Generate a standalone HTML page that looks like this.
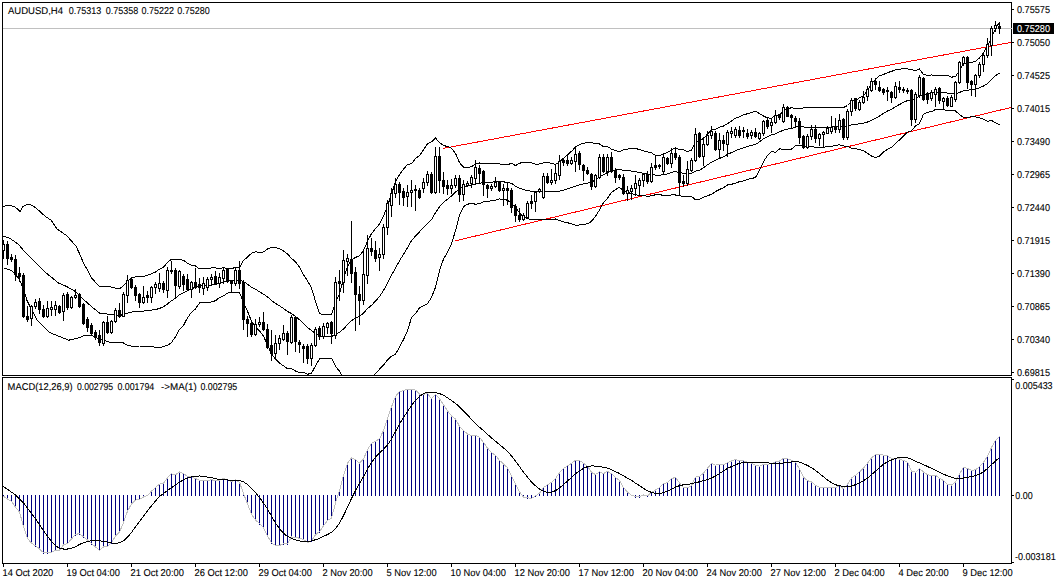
<!DOCTYPE html><html><head><meta charset="utf-8"><style>html,body{margin:0;padding:0;background:#fff;width:1057px;height:584px;overflow:hidden}svg{display:block}text{font-family:"Liberation Sans",sans-serif;font-size:9.9px;text-rendering:geometricPrecision;fill:#000;stroke:#000;stroke-width:0.1px}</style></head><body>
<svg width="1057" height="584" viewBox="0 0 1057 584">
<rect x="0" y="0" width="1057" height="584" fill="#fff"/>
<defs><clipPath id="cm"><rect x="3" y="3" width="1008" height="372"/></clipPath><clipPath id="cd"><rect x="3" y="378" width="1008" height="185"/></clipPath></defs>
<g clip-path="url(#cm)">
<g shape-rendering="crispEdges">
<line x1="3" y1="28.5" x2="1011" y2="28.5" stroke="#c0c0c0"/>
</g>
<g shape-rendering="crispEdges">
<line x1="442.7" y1="148.5" x2="1011" y2="42.4" stroke="#ff0000"/>
<line x1="454.7" y1="241" x2="1011" y2="107.5" stroke="#ff0000"/>
<polyline points="3.3,206.3 8.0,205.4 13.7,206.3 16.5,208.2 20.3,211.6 23.1,206.3 27.8,204.0 32.5,205.4 38.2,210.0 45.7,216.7 51.3,220.4 57.0,229.0 66.5,235.5 75.8,245.8 79.5,253.5 83.5,263.1 87.5,270.0 91.5,277.9 95.5,282.3 99.5,286.8 103.5,286.8 107.5,286.3 111.5,287.2 115.5,288.1 119.5,288.6 123.5,285.9 127.5,280.9 131.5,278.0 135.5,276.8 139.5,276.1 143.5,276.3 147.5,275.3 151.5,273.8 155.5,272.0 159.5,269.1 163.5,267.2 167.5,262.4 171.5,259.2 175.5,259.6 179.5,259.9 183.5,260.1 187.5,263.4 191.5,265.1 195.5,266.0 199.5,269.0 203.5,268.8 207.5,268.7 211.5,267.8 215.5,267.9 219.5,268.5 223.5,267.6 227.5,268.7 231.5,268.7 235.5,267.3 239.5,267.3 243.5,260.5 247.5,257.1 251.5,253.3 255.5,251.7 259.5,252.7 263.5,251.9 267.5,249.0 271.5,247.3 275.5,247.5 279.5,248.7 283.5,251.0 287.5,254.1 291.5,258.3 295.5,261.8 299.5,267.1 303.5,274.9 307.5,280.7 311.5,288.0 315.5,301.2 319.5,313.6 323.5,314.8 327.5,314.8 331.5,314.7 335.5,302.5 339.5,293.7 343.5,279.0 347.5,266.5 351.5,260.0 355.5,257.4 359.5,255.7 363.5,250.6 367.5,241.3 371.5,233.6 375.5,228.6 379.5,224.1 383.5,216.1 387.5,205.8 391.5,194.3 395.5,181.8 399.5,174.5 403.5,169.2 407.5,164.6 411.5,163.7 415.5,158.5 419.5,155.6 423.5,149.9 427.5,143.6 431.5,141.8 435.5,138.1 439.5,142.6 443.5,145.6 447.5,146.4 451.5,148.4 455.5,153.3 459.5,162.7 463.5,167.1 467.5,167.5 471.5,166.7 475.5,164.2 479.5,163.0 483.5,163.4 487.5,163.5 491.5,163.5 495.5,163.5 499.5,164.0 503.5,164.1 507.5,164.9 511.5,163.1 515.5,165.6 519.5,163.3 523.5,162.2 527.5,162.4 531.5,162.9 535.5,164.2 539.5,164.0 543.5,162.9 547.5,162.8 551.5,163.2 555.5,164.5 559.5,161.8 563.5,158.2 567.5,154.8 571.5,151.3 575.5,147.1 579.5,144.6 583.5,143.3 587.5,142.3 591.5,142.7 595.5,143.6 599.5,143.9 603.5,146.7 607.5,146.6 611.5,149.2 615.5,150.5 619.5,151.6 623.5,149.8 627.5,149.1 631.5,148.5 635.5,148.4 639.5,149.6 643.5,150.8 647.5,151.9 651.5,152.9 655.5,155.4 659.5,155.7 663.5,153.6 667.5,152.5 671.5,149.8 675.5,147.9 679.5,149.7 683.5,149.9 687.5,151.6 691.5,150.3 695.5,142.6 699.5,140.9 703.5,138.3 707.5,134.2 711.5,129.9 715.5,129.2 719.5,127.3 723.5,126.0 727.5,123.8 731.5,120.9 735.5,118.2 739.5,116.7 743.5,114.7 747.5,113.8 751.5,112.3 755.5,111.4 759.5,113.5 763.5,116.1 767.5,117.9 771.5,118.3 775.5,115.2 779.5,114.9 783.5,110.8 787.5,109.0 791.5,107.7 795.5,108.4 799.5,108.6 803.5,108.0 807.5,107.9 811.5,107.9 815.5,107.8 819.5,107.8 823.5,107.8 827.5,107.8 831.5,107.7 835.5,107.7 839.5,107.1 843.5,107.5 847.5,105.5 851.5,101.5 855.5,100.4 859.5,97.9 863.5,95.8 867.5,90.7 871.5,84.2 875.5,79.1 879.5,75.8 883.5,74.5 887.5,72.6 891.5,71.4 895.5,69.9 899.5,69.1 903.5,68.9 907.5,68.9 911.5,69.6 915.5,70.8 919.5,69.0 923.5,74.5 927.5,75.2 931.5,75.0 935.5,75.3 939.5,75.4 943.5,75.4 947.5,75.4 951.5,77.1 955.5,76.7 959.5,70.4 963.5,63.8 967.5,63.1 971.5,62.5 975.5,61.2 979.5,57.9 983.5,52.9 987.5,46.0 991.5,37.8 995.5,28.7 999.5,21.9" fill="none" stroke="#000" stroke-width="1" />
<polyline points="3.5,236.0 10.1,238.4 18.5,244.4 24.5,251.6 30.5,257.6 36.5,263.6 44.9,272.0 50.9,276.8 58.1,282.8 66.5,286.4 76.0,291.8 79.5,295.6 83.5,299.5 87.5,302.9 91.5,306.6 95.5,309.8 99.5,313.1 103.5,313.4 107.5,314.1 111.5,314.8 115.5,315.2 119.5,315.6 123.5,314.4 127.5,313.1 131.5,312.1 135.5,311.6 139.5,311.1 143.5,311.1 147.5,310.6 151.5,310.1 155.5,309.6 159.5,308.4 163.5,306.8 167.5,303.9 171.5,300.8 175.5,298.2 179.5,294.6 183.5,292.8 187.5,290.6 191.5,288.6 195.5,287.4 199.5,286.0 203.5,285.4 207.5,285.4 211.5,284.9 215.5,284.3 219.5,283.1 223.5,281.7 227.5,280.9 231.5,280.7 235.5,280.0 239.5,280.0 243.5,281.5 247.5,284.1 251.5,287.3 255.5,289.2 259.5,291.8 263.5,294.1 267.5,296.9 271.5,300.5 275.5,303.4 279.5,305.9 283.5,308.4 287.5,311.5 291.5,313.5 295.5,316.4 299.5,319.8 303.5,323.6 307.5,327.5 311.5,330.6 315.5,333.6 319.5,336.2 323.5,336.6 327.5,336.6 331.5,336.5 335.5,334.4 339.5,332.4 343.5,329.0 347.5,324.6 351.5,320.6 355.5,318.1 359.5,316.2 363.5,313.2 367.5,308.6 371.5,305.3 375.5,301.1 379.5,296.6 383.5,290.6 387.5,282.9 391.5,275.2 395.5,268.0 399.5,260.8 403.5,254.3 407.5,247.8 411.5,240.7 415.5,236.1 419.5,231.8 423.5,227.8 427.5,223.7 431.5,219.6 435.5,212.7 439.5,206.7 443.5,202.3 447.5,199.3 451.5,196.0 455.5,192.0 459.5,189.0 463.5,186.8 467.5,185.8 471.5,185.1 475.5,184.2 479.5,183.2 483.5,182.6 487.5,182.4 491.5,182.2 495.5,181.8 499.5,181.4 503.5,181.8 507.5,182.6 511.5,183.3 515.5,186.2 519.5,188.2 523.5,189.7 527.5,190.4 531.5,191.3 535.5,192.0 539.5,191.8 543.5,191.3 547.5,191.3 551.5,191.4 555.5,191.8 559.5,191.2 563.5,190.1 567.5,188.8 571.5,187.5 575.5,186.1 579.5,184.8 583.5,183.9 587.5,183.1 591.5,182.0 595.5,180.0 599.5,176.9 603.5,174.7 607.5,172.4 611.5,170.8 615.5,170.1 619.5,169.4 623.5,170.3 627.5,170.7 631.5,171.1 635.5,171.6 639.5,172.6 643.5,173.2 647.5,174.1 651.5,174.4 655.5,175.1 659.5,175.2 663.5,174.5 667.5,174.0 671.5,172.3 675.5,171.4 679.5,172.7 683.5,173.3 687.5,173.9 691.5,173.3 695.5,171.2 699.5,170.2 703.5,167.7 707.5,164.9 711.5,162.1 715.5,160.4 719.5,158.4 723.5,156.8 727.5,154.4 731.5,152.6 735.5,150.7 739.5,149.2 743.5,147.8 747.5,146.5 751.5,145.4 755.5,144.4 759.5,141.9 763.5,138.8 767.5,136.7 771.5,134.8 775.5,133.8 779.5,131.9 783.5,130.1 787.5,129.1 791.5,128.4 795.5,127.0 799.5,126.8 803.5,127.0 807.5,127.2 811.5,127.2 815.5,127.6 819.5,127.5 823.5,127.6 827.5,127.2 831.5,127.0 835.5,126.6 839.5,126.0 843.5,126.8 847.5,126.0 851.5,124.9 855.5,124.5 859.5,123.8 863.5,123.3 867.5,122.0 871.5,120.2 875.5,118.3 879.5,116.0 883.5,113.2 887.5,111.0 891.5,109.3 895.5,106.8 899.5,104.5 903.5,102.4 907.5,100.5 911.5,100.2 915.5,98.4 919.5,96.2 923.5,94.3 927.5,93.8 931.5,93.3 935.5,92.4 939.5,92.3 943.5,92.3 947.5,93.2 951.5,94.0 955.5,93.8 959.5,92.5 963.5,90.7 967.5,90.2 971.5,89.6 975.5,89.0 979.5,87.8 983.5,86.0 987.5,83.7 991.5,79.2 995.5,75.7 999.5,73.2" fill="none" stroke="#000" stroke-width="1" />
<polyline points="3.5,267.8 8.9,269.6 12.5,271.4 14.9,274.4 18.5,278.0 20.9,282.8 23.3,288.8 27.0,300.4 36.5,319.3 49.7,332.6 68.7,340.2 79.5,337.6 83.5,335.9 87.5,335.9 91.5,335.4 95.5,337.3 99.5,339.4 103.5,340.0 107.5,341.8 111.5,342.4 115.5,342.3 119.5,342.5 123.5,343.0 127.5,345.2 131.5,346.1 135.5,346.3 139.5,346.0 143.5,346.0 147.5,346.0 151.5,346.5 155.5,347.2 159.5,347.8 163.5,346.3 167.5,345.4 171.5,342.4 175.5,336.8 179.5,329.4 183.5,325.4 187.5,317.8 191.5,312.2 195.5,308.9 199.5,303.0 203.5,302.1 207.5,302.1 211.5,302.0 215.5,300.7 219.5,297.6 223.5,295.8 227.5,293.1 231.5,292.7 235.5,292.7 239.5,292.7 243.5,302.5 247.5,311.2 251.5,321.3 255.5,326.8 259.5,330.9 263.5,336.2 267.5,344.9 271.5,353.7 275.5,359.2 279.5,363.1 283.5,365.8 287.5,368.9 291.5,368.7 295.5,371.0 299.5,372.4 303.5,372.4 307.5,374.3 311.5,373.2 315.5,365.9 319.5,358.8 323.5,358.3 327.5,358.3 331.5,358.3 335.5,366.3 339.5,371.2 343.5,379.0 347.5,382.6 351.5,381.1 355.5,378.8 359.5,376.7 363.5,375.9 367.5,375.9 371.5,377.0 375.5,373.7 379.5,369.2 383.5,365.1 387.5,359.9 391.5,356.2 395.5,354.2 399.5,347.1 403.5,339.5 407.5,331.0 411.5,317.6 415.5,313.6 419.5,307.9 423.5,305.8 427.5,303.7 431.5,297.4 435.5,287.3 439.5,270.8 443.5,259.0 447.5,252.2 451.5,243.6 455.5,230.7 459.5,215.3 463.5,206.6 467.5,204.2 471.5,203.4 475.5,204.2 479.5,203.5 483.5,201.8 487.5,201.3 491.5,200.9 495.5,200.1 499.5,198.9 503.5,199.4 507.5,200.2 511.5,203.5 515.5,206.9 519.5,213.1 523.5,217.1 527.5,218.4 531.5,219.7 535.5,219.8 539.5,219.5 543.5,219.8 547.5,219.8 551.5,219.7 555.5,219.0 559.5,220.5 563.5,221.9 567.5,222.8 571.5,223.7 575.5,225.1 579.5,225.0 583.5,224.5 587.5,223.8 591.5,221.3 595.5,216.4 599.5,209.9 603.5,202.7 607.5,198.2 611.5,192.4 615.5,189.6 619.5,187.3 623.5,190.8 627.5,192.3 631.5,193.7 635.5,194.8 639.5,195.5 643.5,195.5 647.5,196.2 651.5,195.9 655.5,194.7 659.5,194.6 663.5,195.4 667.5,195.5 671.5,194.9 675.5,195.0 679.5,195.7 683.5,196.7 687.5,196.2 691.5,196.4 695.5,199.8 699.5,199.4 703.5,197.1 707.5,195.7 711.5,194.3 715.5,191.6 719.5,189.5 723.5,187.7 727.5,185.0 731.5,184.3 735.5,183.2 739.5,181.6 743.5,181.0 747.5,179.2 751.5,178.6 755.5,177.4 759.5,170.4 763.5,161.6 767.5,155.5 771.5,151.3 775.5,152.5 779.5,148.9 783.5,149.3 787.5,149.2 791.5,149.1 795.5,145.6 799.5,145.1 803.5,146.1 807.5,146.6 811.5,146.4 815.5,147.4 819.5,147.3 823.5,147.4 827.5,146.6 831.5,146.2 835.5,145.5 839.5,144.8 843.5,146.0 847.5,146.5 851.5,148.3 855.5,148.7 859.5,149.7 863.5,150.8 867.5,153.2 871.5,156.1 875.5,157.5 879.5,156.1 883.5,151.9 887.5,149.3 891.5,147.3 895.5,143.6 899.5,139.9 903.5,135.9 907.5,132.2 911.5,130.7 915.5,126.0 919.5,123.5 923.5,114.2 927.5,112.3 931.5,111.7 935.5,109.5 939.5,109.2 943.5,109.3 947.5,110.9 951.5,110.8 955.5,111.0 959.5,114.5 963.5,117.6 967.5,117.4 971.5,116.7 975.5,116.9 979.5,117.7 983.5,119.2 987.5,121.4 991.5,120.5 995.5,122.7 999.5,124.6" fill="none" stroke="#000" stroke-width="1" />
</g>
<g shape-rendering="crispEdges">
<path d="M3.5 240 V244 M3.5 251 V259 M7.5 241 V265 M11.5 254 V262 M15.5 255 V281 M19.5 267 V282 M23.5 273 V318 M27.5 306 V322 M31.5 305 V306 M31.5 319 V326 M35.5 299 V302 M35.5 307 V309 M39.5 298 V314 M43.5 305 V318 M47.5 301 V308 M47.5 317 V318 M51.5 301 V307 M51.5 310 V316 M55.5 301 V305 M55.5 310 V316 M59.5 305 V314 M63.5 293 V295 M63.5 312 V321 M67.5 292 V310 M71.5 296 V297 M71.5 308 V309 M75.5 289 V295 M75.5 298 V299 M79.5 293 V308 M83.5 303 V325 M87.5 317 V332 M91.5 323 V336 M95.5 330 V340 M99.5 330 V346 M103.5 321 V322 M103.5 344 V346 M107.5 316 V334 M111.5 320 V321 M111.5 333 V334 M115.5 308 V310 M115.5 322 V323 M119.5 303 V318 M123.5 292 V294 M127.5 275 V280 M127.5 296 V303 M131.5 278 V289 M135.5 285 V301 M139.5 293 V308 M143.5 286 V297 M143.5 303 V304 M147.5 291 V303 M151.5 286 V287 M151.5 298 V303 M155.5 282 V284 M155.5 288 V294 M159.5 273 V283 M159.5 289 V292 M163.5 281 V293 M167.5 267 V270 M167.5 291 V298 M171.5 261 V274 M175.5 268 V298 M179.5 270 V271 M179.5 287 V289 M183.5 274 V291 M187.5 274 V291 M191.5 281 V282 M191.5 290 V298 M195.5 268 V289 M199.5 278 V293 M203.5 277 V283 M203.5 289 V295 M207.5 277 V279 M207.5 288 V291 M211.5 274 V277 M211.5 280 V286 M215.5 271 V285 M219.5 273 V277 M219.5 284 V288 M223.5 268 V270 M223.5 279 V284 M227.5 268 V283 M231.5 280 V293 M235.5 268 V270 M235.5 284 V286 M239.5 261 V289 M243.5 280 V330 M247.5 316 V337 M251.5 322 V337 M255.5 319 V324 M255.5 335 V336 M259.5 317 V322 M259.5 325 V327 M263.5 312 V331 M267.5 324 V349 M271.5 330 V361 M275.5 335 V343 M275.5 354 V358 M279.5 335 V338 M279.5 344 V350 M283.5 325 V333 M283.5 340 V341 M287.5 331 V355 M291.5 315 V317 M291.5 343 V344 M295.5 316 V352 M299.5 340 V353 M303.5 344 V363 M307.5 344 V364 M311.5 343 V345 M311.5 359 V366 M315.5 327 V329 M315.5 346 V347 M319.5 326 V340 M323.5 323 V326 M323.5 337 V339 M327.5 322 V323 M327.5 328 V334 M331.5 321 V344 M335.5 277 V282 M335.5 336 V339 M339.5 270 V301 M343.5 250 V260 M343.5 283 V293 M347.5 254 V258 M347.5 262 V276 M351.5 221 V283 M355.5 267 V331 M359.5 286 V325 M363.5 250 V274 M363.5 301 V305 M367.5 235 V248 M367.5 276 V284 M371.5 238 V256 M375.5 241 V262 M379.5 248 V254 M379.5 258 V271 M383.5 224 V227 M383.5 255 V259 M387.5 200 V203 M387.5 228 V235 M391.5 188 V193 M391.5 206 V217 M395.5 178 V184 M395.5 194 V198 M399.5 182 V205 M403.5 188 V206 M407.5 185 V192 M407.5 197 V207 M411.5 180 V190 M411.5 193 V207 M415.5 185 V211 M419.5 188 V199 M423.5 178 V182 M423.5 189 V193 M427.5 171 V174 M427.5 183 V186 M431.5 172 V194 M435.5 147 V156 M435.5 193 V194 M439.5 147 V193 M443.5 172 V194 M447.5 180 V195 M451.5 179 V185 M451.5 189 V194 M455.5 175 V178 M455.5 186 V188 M459.5 175 V202 M463.5 180 V184 M463.5 195 V201 M467.5 181 V183 M467.5 186 V187 M471.5 175 V177 M471.5 184 V188 M475.5 160 V167 M475.5 179 V184 M479.5 165 V183 M483.5 170 V196 M487.5 184 V198 M491.5 184 V186 M491.5 189 V191 M495.5 177 V182 M495.5 187 V188 M499.5 181 V192 M503.5 184 V188 M503.5 191 V206 M507.5 183 V205 M511.5 188 V213 M515.5 204 V222 M519.5 208 V222 M523.5 213 V215 M523.5 220 V221 M527.5 201 V203 M527.5 218 V219 M531.5 195 V209 M535.5 191 V192 M535.5 202 V212 M539.5 188 V189 M539.5 192 V193 M543.5 173 V176 M543.5 198 V199 M547.5 173 V184 M551.5 169 V180 M551.5 183 V185 M555.5 165 V173 M555.5 181 V184 M559.5 155 V161 M559.5 176 V180 M563.5 159 V166 M567.5 154 V166 M571.5 157 V160 M571.5 164 V165 M575.5 147 V154 M575.5 162 V172 M579.5 151 V170 M583.5 164 V181 M587.5 167 V175 M591.5 173 V190 M595.5 174 V175 M595.5 187 V188 M599.5 154 V157 M599.5 178 V179 M603.5 154 V173 M607.5 154 V157 M607.5 172 V176 M611.5 152 V173 M615.5 168 V183 M619.5 174 V180 M623.5 174 V195 M627.5 186 V190 M627.5 194 V201 M631.5 185 V188 M631.5 192 V200 M635.5 175 V183 M635.5 189 V196 M639.5 178 V180 M639.5 186 V195 M643.5 173 V174 M643.5 181 V187 M647.5 171 V184 M651.5 163 V167 M651.5 182 V183 M655.5 155 V170 M659.5 164 V169 M663.5 154 V157 M663.5 172 V175 M667.5 157 V165 M671.5 148 V153 M671.5 164 V168 M675.5 148 V160 M679.5 155 V195 M683.5 175 V187 M687.5 161 V169 M687.5 184 V186 M691.5 158 V160 M691.5 171 V172 M695.5 128 V134 M695.5 161 V162 M699.5 132 V158 M703.5 137 V144 M703.5 157 V166 M707.5 131 V135 M707.5 145 V146 M711.5 126 V131 M711.5 136 V139 M715.5 131 V151 M719.5 133 V140 M719.5 150 V158 M723.5 135 V151 M727.5 130 V132 M727.5 145 V157 M731.5 127 V131 M731.5 134 V138 M735.5 127 V129 M735.5 136 V138 M739.5 126 V138 M743.5 127 V138 M747.5 129 V139 M751.5 130 V132 M751.5 136 V139 M755.5 128 V138 M759.5 132 V133 M759.5 139 V140 M763.5 120 V121 M763.5 134 V136 M767.5 118 V129 M771.5 119 V122 M771.5 126 V133 M775.5 110 V115 M775.5 123 V124 M779.5 114 V120 M783.5 104 V107 M783.5 122 V123 M787.5 106 V117 M791.5 114 V129 M795.5 116 V128 M799.5 118 V144 M803.5 135 V149 M807.5 134 V136 M807.5 148 V149 M811.5 125 V129 M811.5 137 V140 M815.5 125 V143 M819.5 133 V134 M819.5 139 V146 M823.5 131 V132 M823.5 135 V147 M827.5 126 V128 M831.5 116 V127 M831.5 132 V134 M835.5 118 V133 M839.5 114 V120 M839.5 130 V133 M843.5 118 V140 M847.5 109 V111 M847.5 138 V140 M851.5 98 V100 M851.5 112 V116 M855.5 98 V111 M859.5 100 V102 M859.5 110 V111 M863.5 91 V97 M863.5 103 V104 M867.5 86 V89 M867.5 97 V101 M871.5 78 V81 M871.5 91 V92 M875.5 80 V90 M879.5 81 V92 M883.5 88 V95 M887.5 87 V101 M891.5 91 V103 M895.5 82 V86 M895.5 98 V99 M899.5 81 V93 M903.5 87 V93 M907.5 88 V94 M911.5 89 V126 M915.5 92 V94 M915.5 120 V123 M919.5 75 V77 M919.5 96 V98 M923.5 77 V101 M927.5 92 V104 M931.5 90 V92 M931.5 99 V101 M935.5 87 V89 M935.5 95 V107 M939.5 87 V104 M943.5 97 V98 M943.5 102 V109 M947.5 96 V107 M951.5 95 V97 M955.5 81 V82 M955.5 100 V102 M959.5 61 V62 M959.5 83 V84 M963.5 56 V57 M963.5 64 V66 M967.5 56 V89 M971.5 80 V96 M975.5 74 V75 M975.5 85 V97 M979.5 62 V64 M979.5 76 V78 M983.5 53 V55 M983.5 65 V72 M987.5 38 V44 M987.5 56 V58 M991.5 26 V28 M991.5 46 V56 M995.5 21 V25 M995.5 29 V32 M999.5 23 V34" stroke="#000" fill="none"/>
<path d="M6 244h3v15h-3z M10 257h3v3h-3z M14 259h3v16h-3z M18 273h3v4h-3z M22 275h3v42h-3z M26 316h3v4h-3z M38 301h3v9h-3z M42 309h3v8h-3z M58 306h3v7h-3z M66 294h3v14h-3z M78 294h3v13h-3z M82 304h3v20h-3z M86 319h3v9h-3z M90 325h3v9h-3z M94 332h3v6h-3z M98 335h3v8h-3z M106 322h3v11h-3z M118 310h3v7h-3z M130 279h3v9h-3z M134 287h3v9h-3z M138 294h3v9h-3z M146 295h3v3h-3z M162 283h3v7h-3z M170 270h3v2h-3z M174 270h3v16h-3z M182 276h3v9h-3z M186 279h3v11h-3z M194 282h3v5h-3z M198 284h3v4h-3z M214 276h3v8h-3z M226 268h3v14h-3z M230 280h3v4h-3z M238 270h3v14h-3z M242 282h3v38h-3z M246 319h3v5h-3z M250 323h3v12h-3z M262 322h3v8h-3z M266 329h3v19h-3z M270 345h3v9h-3z M286 333h3v9h-3z M294 317h3v25h-3z M298 342h3v3h-3z M302 346h3v3h-3z M306 346h3v13h-3z M318 328h3v9h-3z M330 322h3v12h-3z M338 281h3v3h-3z M350 259h3v15h-3z M354 272h3v23h-3z M358 294h3v7h-3z M370 248h3v4h-3z M374 250h3v9h-3z M398 184h3v9h-3z M402 191h3v7h-3z M414 189h3v2h-3z M418 190h3v8h-3z M430 174h3v19h-3z M438 156h3v25h-3z M442 180h3v7h-3z M446 185h3v4h-3z M458 178h3v17h-3z M478 168h3v6h-3z M482 171h3v14h-3z M486 185h3v4h-3z M498 182h3v9h-3z M506 188h3v3h-3z M510 190h3v18h-3z M514 206h3v10h-3z M518 215h3v5h-3z M530 201h3v3h-3z M546 176h3v7h-3z M562 160h3v3h-3z M566 160h3v4h-3z M578 153h3v12h-3z M582 165h3v6h-3z M586 170h3v4h-3z M590 174h3v13h-3z M602 157h3v15h-3z M610 157h3v15h-3z M614 170h3v8h-3z M618 175h3v3h-3z M622 177h3v17h-3z M646 174h3v8h-3z M654 165h3v3h-3z M658 165h3v2h-3z M666 158h3v6h-3z M674 153h3v5h-3z M678 157h3v26h-3z M682 181h3v3h-3z M698 133h3v24h-3z M714 133h3v17h-3z M722 140h3v4h-3z M738 130h3v6h-3z M742 130h3v2h-3z M746 133h3v4h-3z M754 132h3v5h-3z M766 120h3v7h-3z M778 115h3v3h-3z M786 107h3v10h-3z M790 115h3v3h-3z M794 118h3v4h-3z M798 121h3v17h-3z M802 136h3v12h-3z M814 129h3v10h-3z M834 126h3v4h-3z M842 119h3v19h-3z M854 98h3v11h-3z M874 81h3v4h-3z M878 87h3v4h-3z M882 89h3v4h-3z M886 90h3v2h-3z M890 92h3v6h-3z M898 87h3v3h-3z M902 89h3v2h-3z M906 90h3v2h-3z M910 90h3v30h-3z M922 78h3v22h-3z M926 94h3v6h-3z M938 88h3v13h-3z M946 98h3v8h-3z M966 57h3v26h-3z M970 81h3v4h-3z M998 26h3v3h-3z" fill="#000"/>
<rect x="2.5" y="244.5" width="2" height="6" fill="#fff" stroke="#000"/><rect x="30.5" y="306.5" width="2" height="12" fill="#fff" stroke="#000"/><rect x="34.5" y="302.5" width="2" height="4" fill="#fff" stroke="#000"/><rect x="46.5" y="308.5" width="2" height="8" fill="#fff" stroke="#000"/><rect x="50.5" y="307.5" width="2" height="2" fill="#fff" stroke="#000"/><rect x="54.5" y="305.5" width="2" height="4" fill="#fff" stroke="#000"/><rect x="62.5" y="295.5" width="2" height="16" fill="#fff" stroke="#000"/><rect x="70.5" y="297.5" width="2" height="10" fill="#fff" stroke="#000"/><rect x="74.5" y="295.5" width="2" height="2" fill="#fff" stroke="#000"/><rect x="102.5" y="322.5" width="2" height="21" fill="#fff" stroke="#000"/><rect x="110.5" y="321.5" width="2" height="11" fill="#fff" stroke="#000"/><rect x="114.5" y="310.5" width="2" height="11" fill="#fff" stroke="#000"/><rect x="122.5" y="294.5" width="2" height="22" fill="#fff" stroke="#000"/><rect x="126.5" y="280.5" width="2" height="15" fill="#fff" stroke="#000"/><rect x="142.5" y="297.5" width="2" height="5" fill="#fff" stroke="#000"/><rect x="150.5" y="287.5" width="2" height="10" fill="#fff" stroke="#000"/><rect x="154.5" y="284.5" width="2" height="3" fill="#fff" stroke="#000"/><rect x="158.5" y="283.5" width="2" height="5" fill="#fff" stroke="#000"/><rect x="166.5" y="270.5" width="2" height="20" fill="#fff" stroke="#000"/><rect x="178.5" y="271.5" width="2" height="15" fill="#fff" stroke="#000"/><rect x="190.5" y="282.5" width="2" height="7" fill="#fff" stroke="#000"/><rect x="202.5" y="283.5" width="2" height="5" fill="#fff" stroke="#000"/><rect x="206.5" y="279.5" width="2" height="8" fill="#fff" stroke="#000"/><rect x="210.5" y="277.5" width="2" height="2" fill="#fff" stroke="#000"/><rect x="218.5" y="277.5" width="2" height="6" fill="#fff" stroke="#000"/><rect x="222.5" y="270.5" width="2" height="8" fill="#fff" stroke="#000"/><rect x="234.5" y="270.5" width="2" height="13" fill="#fff" stroke="#000"/><rect x="254.5" y="324.5" width="2" height="10" fill="#fff" stroke="#000"/><rect x="258.5" y="322.5" width="2" height="2" fill="#fff" stroke="#000"/><rect x="274.5" y="343.5" width="2" height="10" fill="#fff" stroke="#000"/><rect x="278.5" y="338.5" width="2" height="5" fill="#fff" stroke="#000"/><rect x="282.5" y="333.5" width="2" height="6" fill="#fff" stroke="#000"/><rect x="290.5" y="317.5" width="2" height="25" fill="#fff" stroke="#000"/><rect x="310.5" y="345.5" width="2" height="13" fill="#fff" stroke="#000"/><rect x="314.5" y="329.5" width="2" height="16" fill="#fff" stroke="#000"/><rect x="322.5" y="326.5" width="2" height="10" fill="#fff" stroke="#000"/><rect x="326.5" y="323.5" width="2" height="4" fill="#fff" stroke="#000"/><rect x="334.5" y="282.5" width="2" height="53" fill="#fff" stroke="#000"/><rect x="342.5" y="260.5" width="2" height="22" fill="#fff" stroke="#000"/><rect x="346.5" y="258.5" width="2" height="3" fill="#fff" stroke="#000"/><rect x="362.5" y="274.5" width="2" height="26" fill="#fff" stroke="#000"/><rect x="366.5" y="248.5" width="2" height="27" fill="#fff" stroke="#000"/><rect x="378.5" y="254.5" width="2" height="3" fill="#fff" stroke="#000"/><rect x="382.5" y="227.5" width="2" height="27" fill="#fff" stroke="#000"/><rect x="386.5" y="203.5" width="2" height="24" fill="#fff" stroke="#000"/><rect x="390.5" y="193.5" width="2" height="12" fill="#fff" stroke="#000"/><rect x="394.5" y="184.5" width="2" height="9" fill="#fff" stroke="#000"/><rect x="406.5" y="192.5" width="2" height="4" fill="#fff" stroke="#000"/><rect x="410.5" y="190.5" width="2" height="2" fill="#fff" stroke="#000"/><rect x="422.5" y="182.5" width="2" height="6" fill="#fff" stroke="#000"/><rect x="426.5" y="174.5" width="2" height="8" fill="#fff" stroke="#000"/><rect x="434.5" y="156.5" width="2" height="36" fill="#fff" stroke="#000"/><rect x="450.5" y="185.5" width="2" height="3" fill="#fff" stroke="#000"/><rect x="454.5" y="178.5" width="2" height="7" fill="#fff" stroke="#000"/><rect x="462.5" y="184.5" width="2" height="10" fill="#fff" stroke="#000"/><rect x="466.5" y="183.5" width="2" height="2" fill="#fff" stroke="#000"/><rect x="470.5" y="177.5" width="2" height="6" fill="#fff" stroke="#000"/><rect x="474.5" y="167.5" width="2" height="11" fill="#fff" stroke="#000"/><rect x="490.5" y="186.5" width="2" height="2" fill="#fff" stroke="#000"/><rect x="494.5" y="182.5" width="2" height="4" fill="#fff" stroke="#000"/><rect x="502.5" y="188.5" width="2" height="2" fill="#fff" stroke="#000"/><rect x="522.5" y="215.5" width="2" height="4" fill="#fff" stroke="#000"/><rect x="526.5" y="203.5" width="2" height="14" fill="#fff" stroke="#000"/><rect x="534.5" y="192.5" width="2" height="9" fill="#fff" stroke="#000"/><rect x="538.5" y="189.5" width="2" height="2" fill="#fff" stroke="#000"/><rect x="542.5" y="176.5" width="2" height="21" fill="#fff" stroke="#000"/><rect x="550.5" y="180.5" width="2" height="2" fill="#fff" stroke="#000"/><rect x="554.5" y="173.5" width="2" height="7" fill="#fff" stroke="#000"/><rect x="558.5" y="161.5" width="2" height="14" fill="#fff" stroke="#000"/><rect x="570.5" y="160.5" width="2" height="3" fill="#fff" stroke="#000"/><rect x="574.5" y="154.5" width="2" height="7" fill="#fff" stroke="#000"/><rect x="594.5" y="175.5" width="2" height="11" fill="#fff" stroke="#000"/><rect x="598.5" y="157.5" width="2" height="20" fill="#fff" stroke="#000"/><rect x="606.5" y="157.5" width="2" height="14" fill="#fff" stroke="#000"/><rect x="626.5" y="190.5" width="2" height="3" fill="#fff" stroke="#000"/><rect x="630.5" y="188.5" width="2" height="3" fill="#fff" stroke="#000"/><rect x="634.5" y="183.5" width="2" height="5" fill="#fff" stroke="#000"/><rect x="638.5" y="180.5" width="2" height="5" fill="#fff" stroke="#000"/><rect x="642.5" y="174.5" width="2" height="6" fill="#fff" stroke="#000"/><rect x="650.5" y="167.5" width="2" height="14" fill="#fff" stroke="#000"/><rect x="662.5" y="157.5" width="2" height="14" fill="#fff" stroke="#000"/><rect x="670.5" y="153.5" width="2" height="10" fill="#fff" stroke="#000"/><rect x="686.5" y="169.5" width="2" height="14" fill="#fff" stroke="#000"/><rect x="690.5" y="160.5" width="2" height="10" fill="#fff" stroke="#000"/><rect x="694.5" y="134.5" width="2" height="26" fill="#fff" stroke="#000"/><rect x="702.5" y="144.5" width="2" height="12" fill="#fff" stroke="#000"/><rect x="706.5" y="135.5" width="2" height="9" fill="#fff" stroke="#000"/><rect x="710.5" y="131.5" width="2" height="4" fill="#fff" stroke="#000"/><rect x="718.5" y="140.5" width="2" height="9" fill="#fff" stroke="#000"/><rect x="726.5" y="132.5" width="2" height="12" fill="#fff" stroke="#000"/><rect x="730.5" y="131.5" width="2" height="2" fill="#fff" stroke="#000"/><rect x="734.5" y="129.5" width="2" height="6" fill="#fff" stroke="#000"/><rect x="750.5" y="132.5" width="2" height="3" fill="#fff" stroke="#000"/><rect x="758.5" y="133.5" width="2" height="5" fill="#fff" stroke="#000"/><rect x="762.5" y="121.5" width="2" height="12" fill="#fff" stroke="#000"/><rect x="770.5" y="122.5" width="2" height="3" fill="#fff" stroke="#000"/><rect x="774.5" y="115.5" width="2" height="7" fill="#fff" stroke="#000"/><rect x="782.5" y="107.5" width="2" height="14" fill="#fff" stroke="#000"/><rect x="806.5" y="136.5" width="2" height="11" fill="#fff" stroke="#000"/><rect x="810.5" y="129.5" width="2" height="7" fill="#fff" stroke="#000"/><rect x="818.5" y="134.5" width="2" height="4" fill="#fff" stroke="#000"/><rect x="822.5" y="132.5" width="2" height="2" fill="#fff" stroke="#000"/><rect x="826.5" y="128.5" width="2" height="5" fill="#fff" stroke="#000"/><rect x="830.5" y="127.5" width="2" height="4" fill="#fff" stroke="#000"/><rect x="838.5" y="120.5" width="2" height="9" fill="#fff" stroke="#000"/><rect x="846.5" y="111.5" width="2" height="26" fill="#fff" stroke="#000"/><rect x="850.5" y="100.5" width="2" height="11" fill="#fff" stroke="#000"/><rect x="858.5" y="102.5" width="2" height="7" fill="#fff" stroke="#000"/><rect x="862.5" y="97.5" width="2" height="5" fill="#fff" stroke="#000"/><rect x="866.5" y="89.5" width="2" height="7" fill="#fff" stroke="#000"/><rect x="870.5" y="81.5" width="2" height="9" fill="#fff" stroke="#000"/><rect x="894.5" y="86.5" width="2" height="11" fill="#fff" stroke="#000"/><rect x="914.5" y="94.5" width="2" height="25" fill="#fff" stroke="#000"/><rect x="918.5" y="77.5" width="2" height="18" fill="#fff" stroke="#000"/><rect x="930.5" y="92.5" width="2" height="6" fill="#fff" stroke="#000"/><rect x="934.5" y="89.5" width="2" height="5" fill="#fff" stroke="#000"/><rect x="942.5" y="98.5" width="2" height="3" fill="#fff" stroke="#000"/><rect x="950.5" y="97.5" width="2" height="9" fill="#fff" stroke="#000"/><rect x="954.5" y="82.5" width="2" height="17" fill="#fff" stroke="#000"/><rect x="958.5" y="62.5" width="2" height="20" fill="#fff" stroke="#000"/><rect x="962.5" y="57.5" width="2" height="6" fill="#fff" stroke="#000"/><rect x="974.5" y="75.5" width="2" height="9" fill="#fff" stroke="#000"/><rect x="978.5" y="64.5" width="2" height="11" fill="#fff" stroke="#000"/><rect x="982.5" y="55.5" width="2" height="9" fill="#fff" stroke="#000"/><rect x="986.5" y="44.5" width="2" height="11" fill="#fff" stroke="#000"/><rect x="990.5" y="28.5" width="2" height="17" fill="#fff" stroke="#000"/><rect x="994.5" y="25.5" width="2" height="3" fill="#fff" stroke="#000"/>
</g>
</g>
<g clip-path="url(#cd)">
<g shape-rendering="crispEdges">
<path d="M3.5 495 V497 M7.5 495 V500 M11.5 495 V502 M15.5 495 V508 M19.5 495 V513 M23.5 495 V527 M27.5 495 V539 M31.5 495 V544 M35.5 495 V547 M39.5 495 V550 M43.5 495 V554 M47.5 495 V554 M51.5 495 V553 M55.5 495 V551 M59.5 495 V551 M63.5 495 V546 M67.5 495 V544 M71.5 495 V540 M75.5 495 V536 M79.5 495 V535 M83.5 495 V538 M87.5 495 V541 M91.5 495 V545 M95.5 495 V548 M99.5 495 V551 M103.5 495 V548 M107.5 495 V547 M111.5 495 V544 M115.5 495 V537 M119.5 495 V533 M123.5 495 V524 M127.5 495 V512 M131.5 495 V505 M135.5 495 V501 M139.5 495 V500 M143.5 495 V498 M147.5 495 V496 M151.5 491 V496 M155.5 487 V496 M159.5 484 V496 M163.5 483 V496 M167.5 478 V496 M171.5 474 V496 M175.5 475 V496 M179.5 472 V496 M183.5 474 V496 M187.5 476 V496 M191.5 477 V496 M195.5 479 V496 M199.5 480 V496 M203.5 481 V496 M207.5 480 V496 M211.5 480 V496 M215.5 481 V496 M219.5 480 V496 M223.5 478 V496 M227.5 480 V496 M231.5 482 V496 M235.5 480 V496 M239.5 482 V496 M243.5 494 V496 M247.5 495 V505 M251.5 495 V515 M255.5 495 V521 M259.5 495 V525 M263.5 495 V529 M267.5 495 V537 M271.5 495 V544 M275.5 495 V546 M279.5 495 V546 M283.5 495 V545 M287.5 495 V545 M291.5 495 V538 M295.5 495 V538 M299.5 495 V539 M303.5 495 V540 M307.5 495 V543 M311.5 495 V542 M315.5 495 V536 M319.5 495 V533 M323.5 495 V527 M327.5 495 V521 M331.5 495 V519 M335.5 495 V504 M339.5 491 V496 M343.5 475 V496 M347.5 463 V496 M351.5 458 V496 M355.5 460 V496 M359.5 463 V496 M363.5 459 V496 M367.5 450 V496 M371.5 444 V496 M375.5 441 V496 M379.5 439 V496 M383.5 430 V496 M387.5 418 V496 M391.5 407 V496 M395.5 397 V496 M399.5 392 V496 M403.5 390 V496 M407.5 389 V496 M411.5 389 V496 M415.5 390 V496 M419.5 394 V496 M423.5 394 V496 M427.5 393 V496 M431.5 399 V496 M435.5 394 V496 M439.5 399 V496 M443.5 405 V496 M447.5 411 V496 M451.5 416 V496 M455.5 419 V496 M459.5 426 V496 M463.5 430 V496 M467.5 434 V496 M471.5 436 V496 M475.5 435 V496 M479.5 437 V496 M483.5 442 V496 M487.5 448 V496 M491.5 453 V496 M495.5 455 V496 M499.5 460 V496 M503.5 464 V496 M507.5 468 V496 M511.5 476 V496 M515.5 484 V496 M519.5 492 V496 M523.5 495 V498 M527.5 495 V499 M531.5 495 V499 M535.5 495 V497 M539.5 493 V496 M543.5 488 V496 M547.5 485 V496 M551.5 482 V496 M555.5 479 V496 M559.5 473 V496 M563.5 469 V496 M567.5 466 V496 M571.5 463 V496 M575.5 460 V496 M579.5 461 V496 M583.5 463 V496 M587.5 466 V496 M591.5 472 V496 M595.5 475 V496 M599.5 472 V496 M603.5 474 V496 M607.5 471 V496 M611.5 474 V496 M615.5 478 V496 M619.5 481 V496 M623.5 488 V496 M627.5 492 V496 M631.5 495 V496 M635.5 495 V498 M639.5 495 V498 M643.5 495 V496 M647.5 495 V497 M651.5 492 V496 M655.5 490 V496 M659.5 488 V496 M663.5 484 V496 M667.5 482 V496 M671.5 479 V496 M675.5 477 V496 M679.5 483 V496 M683.5 488 V496 M687.5 488 V496 M691.5 486 V496 M695.5 477 V496 M699.5 476 V496 M703.5 473 V496 M707.5 468 V496 M711.5 464 V496 M715.5 465 V496 M719.5 464 V496 M723.5 465 V496 M727.5 463 V496 M731.5 461 V496 M735.5 460 V496 M739.5 461 V496 M743.5 461 V496 M747.5 462 V496 M751.5 463 V496 M755.5 465 V496 M759.5 466 V496 M763.5 464 V496 M767.5 464 V496 M771.5 464 V496 M775.5 462 V496 M779.5 461 V496 M783.5 458 V496 M787.5 459 V496 M791.5 460 V496 M795.5 462 V496 M799.5 469 V496 M803.5 477 V496 M807.5 481 V496 M811.5 482 V496 M815.5 485 V496 M819.5 487 V496 M823.5 488 V496 M827.5 488 V496 M831.5 487 V496 M835.5 488 V496 M839.5 486 V496 M843.5 489 V496 M847.5 484 V496 M851.5 478 V496 M855.5 475 V496 M859.5 472 V496 M863.5 468 V496 M867.5 463 V496 M871.5 458 V496 M875.5 455 V496 M879.5 454 V496 M883.5 455 V496 M887.5 456 V496 M891.5 459 V496 M895.5 458 V496 M899.5 459 V496 M903.5 460 V496 M907.5 462 V496 M911.5 471 V496 M915.5 472 V496 M919.5 469 V496 M923.5 472 V496 M927.5 475 V496 M931.5 475 V496 M935.5 475 V496 M939.5 478 V496 M943.5 481 V496 M947.5 484 V496 M951.5 485 V496 M955.5 482 V496 M959.5 474 V496 M963.5 467 V496 M967.5 468 V496 M971.5 470 V496 M975.5 470 V496 M979.5 467 V496 M983.5 462 V496 M987.5 456 V496 M991.5 448 V496 M995.5 441 V496 M999.5 436 V496" stroke="#000080" fill="none"/>
<polyline points="3.5,496.4 7.5,499.1 11.5,501.4 15.5,507.1 19.5,512.0 23.5,526.4 27.5,538.1 31.5,543.3 35.5,545.7 39.5,548.9 43.5,552.7 47.5,552.9 51.5,552.1 55.5,550.3 59.5,550.2 63.5,544.9 67.5,543.4 71.5,539.0 75.5,534.5 79.5,533.5 83.5,536.8 87.5,540.0 91.5,543.6 95.5,547.0 99.5,550.3 103.5,547.0 107.5,546.5 111.5,542.6 115.5,536.0 119.5,532.0 123.5,522.6 127.5,511.1 131.5,503.9 135.5,500.2 139.5,499.2 143.5,497.0 147.5,495.3 151.5,491.2 155.5,487.3 159.5,484.1 163.5,483.3 167.5,477.7 171.5,473.8 175.5,474.7 179.5,472.0 183.5,473.6 187.5,476.4 191.5,476.9 195.5,478.6 199.5,480.4 203.5,481.0 207.5,480.5 211.5,479.7 215.5,480.9 219.5,480.4 223.5,478.3 227.5,479.8 231.5,481.7 235.5,479.8 239.5,482.1 243.5,493.6 247.5,503.7 251.5,514.4 255.5,520.0 259.5,523.5 263.5,527.8 267.5,535.7 271.5,542.9 275.5,545.4 279.5,545.5 283.5,543.6 287.5,543.7 291.5,536.9 295.5,537.4 299.5,538.2 303.5,539.4 307.5,542.5 311.5,540.9 315.5,534.8 319.5,531.5 323.5,525.9 327.5,520.3 331.5,518.3 335.5,502.8 339.5,490.9 343.5,475.5 347.5,463.1 351.5,457.8 355.5,459.6 359.5,463.1 363.5,459.2 367.5,449.7 371.5,443.5 375.5,441.1 379.5,438.8 383.5,430.5 387.5,418.2 391.5,406.8 395.5,396.5 399.5,391.7 403.5,390.5 407.5,389.4 411.5,389.2 415.5,390.2 419.5,394.1 423.5,394.3 427.5,393.5 431.5,398.8 435.5,394.5 439.5,398.6 443.5,404.6 447.5,410.8 451.5,415.9 455.5,418.9 459.5,426.4 463.5,430.4 467.5,434.0 471.5,435.9 475.5,435.4 479.5,437.3 483.5,442.4 487.5,448.1 491.5,452.5 495.5,455.4 499.5,460.3 503.5,464.0 507.5,467.7 511.5,475.6 515.5,484.1 519.5,491.9 523.5,497.0 527.5,497.8 531.5,498.4 535.5,495.9 539.5,493.1 543.5,487.5 547.5,484.8 551.5,482.3 555.5,478.6 559.5,472.7 563.5,468.5 567.5,465.9 571.5,463.4 575.5,460.1 579.5,460.7 583.5,463.1 587.5,466.2 591.5,472.4 595.5,474.6 599.5,471.8 603.5,473.5 607.5,471.4 611.5,473.8 615.5,477.5 619.5,480.6 623.5,487.5 627.5,492.2 631.5,495.4 635.5,496.5 639.5,496.6 643.5,495.0 647.5,495.7 651.5,492.5 655.5,490.0 659.5,487.8 663.5,483.8 667.5,482.4 671.5,478.8 675.5,477.2 679.5,482.9 683.5,487.7 687.5,487.9 691.5,485.6 695.5,477.1 699.5,476.5 703.5,473.0 707.5,468.1 711.5,463.5 715.5,465.1 719.5,464.3 723.5,464.8 727.5,462.6 731.5,461.0 735.5,459.6 739.5,460.6 743.5,460.6 747.5,462.4 751.5,463.1 755.5,465.1 759.5,466.2 763.5,464.2 767.5,464.3 771.5,463.6 775.5,461.7 779.5,461.0 783.5,458.2 787.5,458.9 791.5,460.1 795.5,462.5 799.5,469.0 803.5,477.1 807.5,480.7 811.5,481.9 815.5,485.3 819.5,487.1 823.5,488.0 827.5,487.7 831.5,487.3 835.5,487.7 839.5,485.6 843.5,488.7 847.5,484.2 851.5,477.9 855.5,475.2 859.5,471.8 863.5,468.1 867.5,463.3 871.5,457.8 875.5,454.7 879.5,454.4 883.5,455.1 887.5,455.9 891.5,458.5 895.5,458.1 899.5,459.0 903.5,460.4 907.5,462.1 911.5,471.3 915.5,472.2 919.5,468.5 923.5,471.9 927.5,474.8 931.5,475.4 935.5,475.3 939.5,478.4 943.5,480.5 947.5,484.2 951.5,485.1 955.5,481.9 959.5,474.2 963.5,467.1 967.5,468.5 971.5,470.4 975.5,469.8 979.5,466.7 983.5,462.2 987.5,456.1 991.5,447.5 995.5,440.5 999.5,436.5" fill="none" stroke="#c0c0c0" stroke-width="1" />
<polyline points="2.9,486.1 14.7,494.4 24.2,503.9 35.5,518.8 39.5,524.7 43.5,530.6 47.5,536.3 51.5,541.3 55.5,545.6 59.5,548.2 63.5,549.0 67.5,549.0 71.5,548.3 75.5,546.7 79.5,544.5 83.5,542.7 87.5,541.4 91.5,540.7 95.5,540.3 99.5,540.9 103.5,541.3 107.5,542.1 111.5,543.0 115.5,543.3 119.5,542.8 123.5,540.8 127.5,537.2 131.5,532.4 135.5,526.9 139.5,521.6 143.5,516.1 147.5,510.8 151.5,505.8 155.5,500.9 159.5,496.6 163.5,493.5 167.5,490.6 171.5,487.6 175.5,484.9 179.5,482.2 183.5,479.7 187.5,478.1 191.5,476.9 195.5,476.3 199.5,476.0 203.5,476.4 207.5,477.1 211.5,477.7 215.5,478.7 219.5,479.4 223.5,479.6 227.5,480.0 231.5,480.3 235.5,480.2 239.5,480.4 243.5,481.8 247.5,484.5 251.5,488.2 255.5,492.6 259.5,497.6 263.5,503.0 267.5,509.0 271.5,516.0 275.5,523.0 279.5,528.8 283.5,533.2 287.5,536.5 291.5,538.3 295.5,539.9 299.5,541.0 303.5,541.4 307.5,541.4 311.5,540.9 315.5,539.7 319.5,538.4 323.5,536.4 327.5,534.5 331.5,532.4 335.5,528.5 339.5,523.1 343.5,515.7 347.5,507.0 351.5,498.5 355.5,490.5 359.5,483.5 363.5,476.7 367.5,469.1 371.5,462.5 375.5,457.0 379.5,452.9 383.5,449.3 387.5,444.9 391.5,439.0 395.5,431.6 399.5,424.1 403.5,417.5 407.5,411.5 411.5,405.7 415.5,400.3 419.5,396.3 423.5,393.6 427.5,392.2 431.5,392.4 435.5,392.7 439.5,393.6 443.5,395.3 447.5,397.7 451.5,400.6 455.5,403.3 459.5,406.9 463.5,411.0 467.5,414.9 471.5,419.5 475.5,423.6 479.5,427.2 483.5,430.7 487.5,434.3 491.5,438.0 495.5,441.3 499.5,444.6 503.5,447.9 507.5,451.5 511.5,455.9 515.5,461.1 519.5,466.6 523.5,472.1 527.5,477.1 531.5,481.9 535.5,485.8 539.5,489.1 543.5,491.3 547.5,492.3 551.5,492.1 555.5,490.6 559.5,487.9 563.5,484.6 567.5,481.0 571.5,477.4 575.5,473.8 579.5,470.8 583.5,468.4 587.5,466.6 591.5,465.9 595.5,466.1 599.5,466.5 603.5,467.3 607.5,468.2 611.5,469.7 615.5,471.6 619.5,473.5 623.5,475.9 627.5,478.1 631.5,480.4 635.5,483.2 639.5,485.7 643.5,488.3 647.5,490.8 651.5,492.4 655.5,493.5 659.5,493.5 663.5,492.6 667.5,491.2 671.5,489.2 675.5,487.0 679.5,485.7 683.5,484.8 687.5,484.3 691.5,483.8 695.5,482.6 699.5,481.8 703.5,480.7 707.5,479.6 711.5,478.0 715.5,476.1 719.5,473.5 723.5,470.9 727.5,468.3 731.5,466.6 735.5,464.7 739.5,463.3 743.5,462.5 747.5,462.4 751.5,462.1 755.5,462.2 759.5,462.4 763.5,462.5 767.5,462.9 771.5,463.3 775.5,463.4 779.5,463.5 783.5,463.0 787.5,462.6 791.5,462.0 795.5,461.6 799.5,462.1 803.5,463.6 807.5,465.5 811.5,467.7 815.5,470.4 819.5,473.6 823.5,476.8 827.5,479.9 831.5,482.7 835.5,484.8 839.5,485.7 843.5,486.6 847.5,486.8 851.5,486.0 855.5,484.7 859.5,482.9 863.5,480.7 867.5,478.0 871.5,474.7 875.5,471.3 879.5,467.5 883.5,464.3 887.5,461.8 891.5,460.0 895.5,458.4 899.5,457.4 903.5,457.1 907.5,457.6 911.5,459.4 915.5,461.4 919.5,462.9 923.5,464.7 927.5,466.5 931.5,468.4 935.5,470.2 939.5,472.2 943.5,474.3 947.5,475.7 951.5,477.1 955.5,478.6 959.5,478.9 963.5,478.0 967.5,477.2 971.5,476.7 975.5,475.7 979.5,474.2 983.5,471.8 987.5,468.5 991.5,464.7 995.5,461.0 999.5,457.6" fill="none" stroke="#000" stroke-width="1" />
</g></g>
<g shape-rendering="crispEdges" fill="none" stroke="#000">
<path d="M2.5 2.5 H1011.5 V375.5 H2.5 Z"/>
<path d="M2.5 377.5 H1011.5 V563.5 H2.5 Z"/>
<path d="M1012 9.5 H1014 M1012 42.5 H1014 M1012 75.5 H1014 M1012 108.5 H1014 M1012 141.5 H1014 M1012 174.5 H1014 M1012 207.5 H1014 M1012 240.5 H1014 M1012 273.5 H1014 M1012 306.5 H1014 M1012 339.5 H1014 M1012 372.5 H1014 M1012 379.5 H1014 M1012 495.5 H1014 M1012 562.5 H1014 M3.5 564 V567 M67.5 564 V567 M131.5 564 V567 M195.5 564 V567 M259.5 564 V567 M323.5 564 V567 M387.5 564 V567 M451.5 564 V567 M515.5 564 V567 M579.5 564 V567 M643.5 564 V567 M707.5 564 V567 M771.5 564 V567 M835.5 564 V567 M899.5 564 V567 M963.5 564 V567"/>
</g>
<line x1="1011" y1="28.5" x2="1012" y2="28.5" stroke="#c0c0c0" shape-rendering="crispEdges"/>
<rect x="1013" y="23" width="41" height="11" fill="#000"/>
<text x="1017" y="32" style="fill:#fff;stroke:#fff" textLength="33" lengthAdjust="spacingAndGlyphs">0.75280</text>
<text x="1017" y="13" textLength="33" lengthAdjust="spacingAndGlyphs">0.75575</text>
<text x="1017" y="46" textLength="33" lengthAdjust="spacingAndGlyphs">0.75050</text>
<text x="1017" y="79" textLength="33" lengthAdjust="spacingAndGlyphs">0.74525</text>
<text x="1017" y="112" textLength="33" lengthAdjust="spacingAndGlyphs">0.74015</text>
<text x="1017" y="145" textLength="33" lengthAdjust="spacingAndGlyphs">0.73490</text>
<text x="1017" y="178" textLength="33" lengthAdjust="spacingAndGlyphs">0.72965</text>
<text x="1017" y="211" textLength="33" lengthAdjust="spacingAndGlyphs">0.72440</text>
<text x="1017" y="244" textLength="33" lengthAdjust="spacingAndGlyphs">0.71915</text>
<text x="1017" y="277" textLength="33" lengthAdjust="spacingAndGlyphs">0.71390</text>
<text x="1017" y="310" textLength="33" lengthAdjust="spacingAndGlyphs">0.70865</text>
<text x="1017" y="343" textLength="33" lengthAdjust="spacingAndGlyphs">0.70340</text>
<text x="1017" y="376" textLength="33" lengthAdjust="spacingAndGlyphs">0.69815</text>
<text x="1015.3" y="388.5" textLength="37.3" lengthAdjust="spacingAndGlyphs">0.005433</text>
<text x="1015.3" y="499" textLength="17.4" lengthAdjust="spacingAndGlyphs">0.00</text>
<text x="1015" y="560.3" textLength="40.7" lengthAdjust="spacingAndGlyphs">-0.003181</text>
<text x="2.5" y="576" textLength="50.8" lengthAdjust="spacingAndGlyphs">14 Oct 2020</text>
<text x="66.5" y="576" textLength="53.4" lengthAdjust="spacingAndGlyphs">19 Oct 04:00</text>
<text x="130.5" y="576" textLength="53.4" lengthAdjust="spacingAndGlyphs">21 Oct 20:00</text>
<text x="194.5" y="576" textLength="53.4" lengthAdjust="spacingAndGlyphs">26 Oct 12:00</text>
<text x="258.5" y="576" textLength="53.4" lengthAdjust="spacingAndGlyphs">29 Oct 04:00</text>
<text x="322.5" y="576" textLength="50.2" lengthAdjust="spacingAndGlyphs">2 Nov 20:00</text>
<text x="386.5" y="576" textLength="50.2" lengthAdjust="spacingAndGlyphs">5 Nov 12:00</text>
<text x="450.5" y="576" textLength="55.5" lengthAdjust="spacingAndGlyphs">10 Nov 04:00</text>
<text x="514.5" y="576" textLength="55.5" lengthAdjust="spacingAndGlyphs">12 Nov 20:00</text>
<text x="578.5" y="576" textLength="55.5" lengthAdjust="spacingAndGlyphs">17 Nov 12:00</text>
<text x="642.5" y="576" textLength="55.5" lengthAdjust="spacingAndGlyphs">20 Nov 04:00</text>
<text x="706.5" y="576" textLength="55.5" lengthAdjust="spacingAndGlyphs">24 Nov 20:00</text>
<text x="770.5" y="576" textLength="55.5" lengthAdjust="spacingAndGlyphs">27 Nov 12:00</text>
<text x="834.5" y="576" textLength="50.2" lengthAdjust="spacingAndGlyphs">2 Dec 04:00</text>
<text x="898.5" y="576" textLength="50.2" lengthAdjust="spacingAndGlyphs">4 Dec 20:00</text>
<text x="962.5" y="576" textLength="50.2" lengthAdjust="spacingAndGlyphs">9 Dec 12:00</text>
<text x="8" y="14" textLength="55" lengthAdjust="spacingAndGlyphs">AUDUSD,H4</text>
<text x="68.7" y="14" textLength="32.5" lengthAdjust="spacingAndGlyphs">0.75313</text>
<text x="105.7" y="14" textLength="32.5" lengthAdjust="spacingAndGlyphs">0.75358</text>
<text x="141.4" y="14" textLength="32.5" lengthAdjust="spacingAndGlyphs">0.75222</text>
<text x="177.2" y="14" textLength="32.5" lengthAdjust="spacingAndGlyphs">0.75280</text>
<text x="7.6" y="390" textLength="65" lengthAdjust="spacingAndGlyphs">MACD(12,26,9)</text>
<text x="76.9" y="390" textLength="36.3" lengthAdjust="spacingAndGlyphs">0.002795</text>
<text x="117.4" y="390" textLength="36.9" lengthAdjust="spacingAndGlyphs">0.001794</text>
<text x="161.0" y="390" textLength="35.7" lengthAdjust="spacingAndGlyphs">-&gt;MA(1)</text>
<text x="200.4" y="390" textLength="36.9" lengthAdjust="spacingAndGlyphs">0.002795</text>
</svg></body></html>
